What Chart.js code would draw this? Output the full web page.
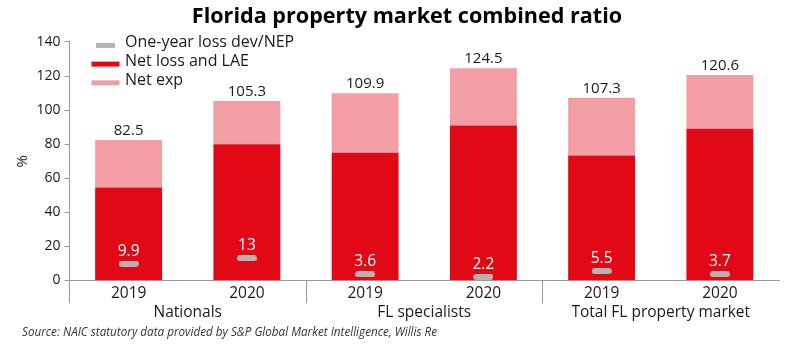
<!DOCTYPE html>
<html>
<head>
<meta charset="utf-8">
<script src="https://cdn.jsdelivr.net/npm/chart.js@4.4.0/dist/chart.umd.min.js"></script>
<style>
  html, body { margin: 0; padding: 0; background: #fff; }
  #wrap { width: 800px; height: 346px; }
</style>
</head>
<body>
<div id="wrap"><canvas id="c"></canvas></div>
<script>
// Florida property market combined ratio, by segment and year (%)
const years = ['2019', '2020', '2019', '2020', '2019', '2020'];
const groups = ['Nationals', 'FL specialists', 'Total FL property market'];
const totals = [82.5, 105.3, 109.9, 124.5, 107.3, 120.6];
const netLossLAE = [54.5, 80.0, 75.0, 91.0, 73.3, 89.0];
const netExp = [28.0, 25.3, 34.9, 33.5, 34.0, 31.6];
const lossDev = [9.9, 13, 3.6, 2.2, 5.5, 3.7];
const yTicks = [0, 20, 40, 60, 80, 100, 120, 140];

const FONT = '"Open Sans", "Noto Sans", sans-serif';
const TXT = '#1a1a1a';
const AXIS = '#9a9a9a';
const RED = '#e20917';
const PINK = '#f29ea4';
const GREY = '#b4b4b4';

// rounded dash used as the marker for the loss development points
function dash(w, h, color) {
  const c = document.createElement('canvas');
  c.width = w; c.height = h;
  const g = c.getContext('2d');
  const r = h / 2;
  g.fillStyle = color;
  g.beginPath();
  g.moveTo(r, 0);
  g.lineTo(w - r, 0);
  g.arc(w - r, r, r, -Math.PI / 2, Math.PI / 2);
  g.lineTo(r, h);
  g.arc(r, r, r, Math.PI / 2, Math.PI * 1.5);
  g.closePath();
  g.fill();
  return c;
}
const devMark = dash(20, 6, GREY);

// value labels: totals above each stack, loss development above each dash
const valueLabels = {
  id: 'valueLabels',
  afterDatasetsDraw(chart) {
    const ctx = chart.ctx;
    const top = chart.getDatasetMeta(2).data;
    const dev = chart.getDatasetMeta(0).data;
    ctx.save();
    ctx.textAlign = 'center';
    ctx.textBaseline = 'alphabetic';
    ctx.font = '15px ' + FONT;
    ctx.fillStyle = TXT;
    top.forEach((el, i) => ctx.fillText(totals[i].toFixed(1), el.x, el.y - 5));
    ctx.fillStyle = '#ffffff';
    ctx.font = '15.5px ' + FONT;
    dev.forEach((el, i) => ctx.fillText(String(lossDev[i]), el.x, el.y - 8));
    ctx.restore();
  }
};

// legend stacked in the top-left corner of the plot, plus the source note
const cornerLegend = {
  id: 'cornerLegend',
  afterDraw(chart) {
    const ctx = chart.ctx;
    const a = chart.chartArea;
    const rows = [
      { label: chart.data.datasets[0].label, color: GREY, w: 19, h: 5 },
      { label: chart.data.datasets[1].label, color: RED, w: 28, h: 5 },
      { label: chart.data.datasets[2].label, color: PINK, w: 28, h: 5 }
    ];
    const cx = a.left + 36;
    const tx = a.left + 55.5;
    ctx.save();
    ctx.font = '16px ' + FONT;
    ctx.textBaseline = 'middle';
    ctx.textAlign = 'left';
    rows.forEach((r, i) => {
      const y = a.top + 1 + i * 18.7;
      ctx.fillStyle = r.color;
      ctx.fillRect(cx - r.w / 2, y + 2.5 - r.h / 2, r.w, r.h);
      ctx.fillStyle = TXT;
      ctx.fillText(r.label, tx, y);
    });
    ctx.font = 'italic 11.7px ' + FONT;
    ctx.fillStyle = '#333333';
    ctx.fillText('Source: NAIC statutory data provided by S&P Global Market Intelligence, Willis Re', 22, 333);
    ctx.restore();
  }
};

new Chart(document.getElementById('c'), {
  data: {
    labels: years,
    datasets: [
      {
        type: 'line',
        label: 'One-year loss dev/NEP',
        data: lossDev,
        showLine: false,
        pointStyle: devMark,
        pointRadius: 4,
        stack: 'dev',
        order: 0
      },
      {
        type: 'bar',
        label: 'Net loss and LAE',
        data: netLossLAE,
        backgroundColor: RED,
        stack: 'ratio',
        order: 1,
        barPercentage: 0.566,
        categoryPercentage: 1
      },
      {
        type: 'bar',
        label: 'Net exp',
        data: netExp,
        backgroundColor: PINK,
        stack: 'ratio',
        order: 1,
        barPercentage: 0.566,
        categoryPercentage: 1
      }
    ]
  },
  options: {
    responsive: true,
    maintainAspectRatio: false,
    animation: false,
    layout: { padding: { left: 14, right: 0, top: 0, bottom: 22.5 } },
    plugins: {
      legend: { display: false },
      tooltip: { enabled: false },
      title: {
        display: true,
        text: 'Florida property market combined ratio',
        color: '#000',
        font: { family: FONT, size: 21.6, weight: 'bold' },
        padding: { top: 4, bottom: 12 }
      }
    },
    scales: {
      x: {
        type: 'category',
        stacked: true,
        offset: true,
        afterFit: (s) => { s.height = 23; },
        grid: {
          display: true,
          drawOnChartArea: false,
          drawTicks: true,
          tickLength: 23,
          offset: true,
          color: (c) => (c.type === 'tick' && c.index % 2 === 0) ? AXIS : 'rgba(0,0,0,0)'
        },
        border: { display: true, color: AXIS },
        ticks: { color: TXT, font: { family: FONT, size: 15.5 }, padding: -19.5, maxRotation: 0, autoSkip: false }
      },
      group: {
        type: 'category',
        labels: groups,
        position: 'bottom',
        offset: true,
        weight: 1,
        afterFit: (s) => { s.height = 20; },
        grid: { display: false, drawTicks: false },
        border: { display: false },
        ticks: { color: TXT, font: { family: FONT, size: 15.5 }, padding: 0, maxRotation: 0 }
      },
      y: {
        stacked: true,
        min: 0,
        max: 140,
        afterBuildTicks: (s) => { s.ticks = yTicks.map(v => ({ value: v })); },
        afterFit: (s) => { s.width = 55.5; },
        grid: { display: true, drawOnChartArea: false, drawTicks: true, tickLength: 5, color: AXIS },
        border: { display: true, color: AXIS },
        ticks: { color: TXT, font: { family: FONT, size: 14 }, padding: 4 },
        title: {
          display: true,
          text: '%',
          color: TXT,
          font: { family: FONT, size: 15 },
          padding: { top: 0, bottom: 0 }
        }
      },
      // empty right-hand gutter so the plot stops short of the right edge
      gutter: {
        type: 'linear',
        position: 'right',
        display: true,
        afterFit: (s) => { s.width = 21; },
        grid: { display: false },
        border: { display: false },
        ticks: { display: false }
      }
    }
  },
  plugins: [valueLabels, cornerLegend]
});
</script>
</body>
</html>
